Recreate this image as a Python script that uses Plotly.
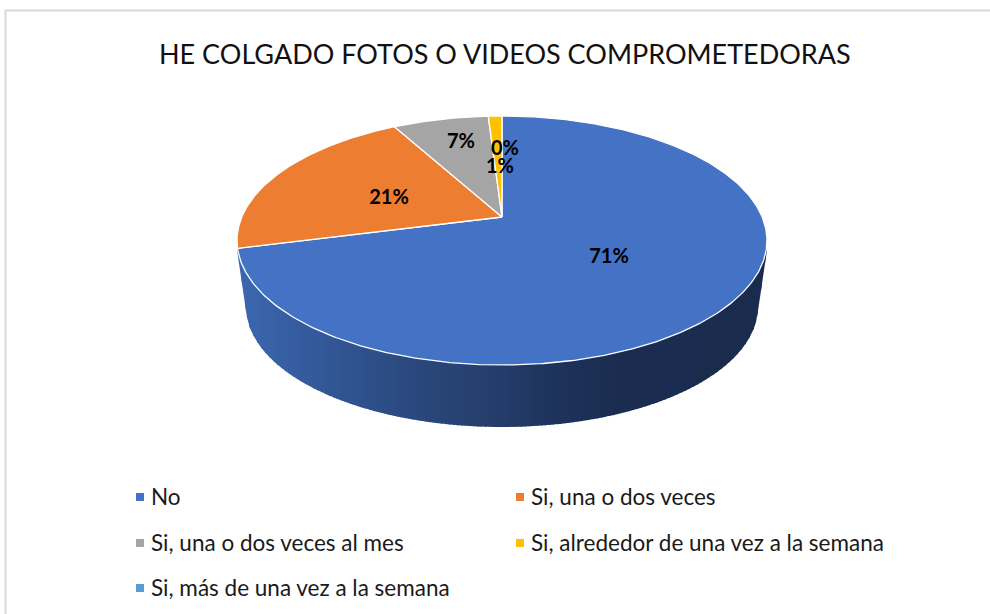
import numpy as np
import plotly.graph_objects as go

# ---- data ----
categories = ["No", "Si, una o dos veces", "Si, una o dos veces al mes",
              "Si, alrededor de una vez a la semana", "Si, más de una vez a la semana"]
values = [71, 21, 7, 1, 0]
colors = ["#4472C4", "#ED7D31", "#A5A5A5", "#FFC000", "#5B9BD5"]
title = "HE COLGADO FOTOS O VIDEOS COMPROMETEDORAS"

# ---- layout constants (pixels in a 990x614 canvas) ----
FONT = "Lato"
APEX = (502.0, 217.0)
K = 0.1888         # perspective factor of the tilted disc
A = 120.05         # vertical scale
B = 260.2          # horizontal scale
BASE_C = (502.0, 307.0)
BASE_R = (256.0, 120.0)
label_xy = [(609, 258), (389, 199), (461, 143), (500, 168), (505, 150)]
legend_xy = [(140, 497), (520, 497), (140, 543), (520, 543), (140, 588)]


def rim(theta):
    """Project angle(s) on the pie disc (clockwise from top, radians) to the canvas."""
    X, Y = np.sin(theta), -np.cos(theta)
    d = 1 - K * Y
    return APEX[0] + B * X / d, APEX[1] + A * Y / d


fig = go.Figure()

# ---- side wall, shaded left to right ----
stops_x = [237, 300, 400, 500, 560, 620, 767]
stops_rgb = np.array([[60, 103, 176], [53, 92, 158], [43, 74, 128], [36, 60, 106],
                      [30, 50, 90], [26, 44, 79], [26, 44, 78]], float)
th = np.linspace(np.pi / 2, 3 * np.pi / 2, 1500)
rx, ry = rim(th)
order = np.argsort(rx)
rx, ry = rx[order], ry[order]


def top_y(x):
    return np.interp(x, rx, ry)


def bottom_y(x):
    dx = np.abs(x - BASE_C[0])
    L = BASE_R[0]
    if dx <= L - 1:
        return BASE_C[1] + BASE_R[1] * np.sqrt(1 - (dx / L) ** 2)
    edge_y = BASE_C[1] + BASE_R[1] * np.sqrt(1 - ((L - 1) / L) ** 2)
    return 250 + (edge_y - 250) * (265 - dx) / (265 - L + 1)


edges = np.arange(237, 768, 4.0)
for x0 in edges:
    xs = np.linspace(x0, min(x0 + 5, 767), 6)
    up = [top_y(x) - 1 for x in xs]
    lo = [bottom_y(x) for x in xs]
    c = [np.interp(x0 + 2, stops_x, stops_rgb[:, i]) for i in range(3)]
    fig.add_trace(go.Scatter(
        x=list(xs) + list(xs[::-1]), y=up + lo[::-1], mode="lines", fill="toself",
        fillcolor=f"rgb({c[0]:.0f},{c[1]:.0f},{c[2]:.0f})", line=dict(width=0),
        hoverinfo="skip", showlegend=False))

# ---- top face wedges ----
cum = np.cumsum([0] + values) / sum(values) * 2 * np.pi
for i, (name, v, col) in enumerate(zip(categories, values, colors)):
    if v <= 0:
        continue
    t = np.linspace(cum[i], cum[i + 1], max(8, int(v * 6)))
    ex, ey = rim(t)
    fig.add_trace(go.Scatter(
        x=[APEX[0], *ex, APEX[0]], y=[APEX[1], *ey, APEX[1]], mode="lines", fill="toself",
        fillcolor=col, line=dict(color="white", width=1.3), name=name,
        hoverinfo="name", showlegend=False))

# ---- percent labels ----
total = sum(values)
fig.add_trace(go.Scatter(
    x=[p[0] for p in label_xy], y=[p[1] for p in label_xy], mode="text",
    text=[f"{round(v / total * 100)}%" for v in values],
    textposition="middle center",
    textfont=dict(family=FONT, size=20, color="#000000", weight="bold"),
    hoverinfo="skip", showlegend=False))

# ---- legend ----
for name, col, (lx, ly) in zip(categories, colors, legend_xy):
    fig.add_trace(go.Scatter(
        x=[lx], y=[ly], mode="markers",
        marker=dict(symbol="square", size=8, color=col, line=dict(width=0)),
        hoverinfo="skip", showlegend=False))
    fig.add_annotation(x=lx + 11, y=ly - 0.5, text=name, showarrow=False, xanchor="left",
                       yanchor="middle", xref="x", yref="y", borderpad=0, borderwidth=0,
                       font=dict(family=FONT, size=22.5, color="#1a1a1a"))

fig.add_annotation(x=505, y=53, text=title, showarrow=False, xanchor="center", yanchor="middle",
                   xref="x", yref="y", font=dict(family=FONT, size=27, color="#111111"))

# chart-area frame: only top and left edges fall inside the picture
fig.add_shape(type="path", path="M 5.5 614 L 5.5 10.5 L 990 10.5",
              line=dict(color="#D9D9D9", width=2), xref="x", yref="y", layer="below")

fig.update_layout(
    width=990, height=614, autosize=False,
    margin=dict(l=0, r=0, t=0, b=0),
    paper_bgcolor="white", plot_bgcolor="white",
    xaxis=dict(range=[0, 990], visible=False, fixedrange=True),
    yaxis=dict(range=[614, 0], visible=False, fixedrange=True),
    showlegend=False,
)
fig.write_html("out.html", config={"displayModeBar": False},
               post_script="document.body.style.margin='0';document.documentElement.style.overflow='hidden';")
